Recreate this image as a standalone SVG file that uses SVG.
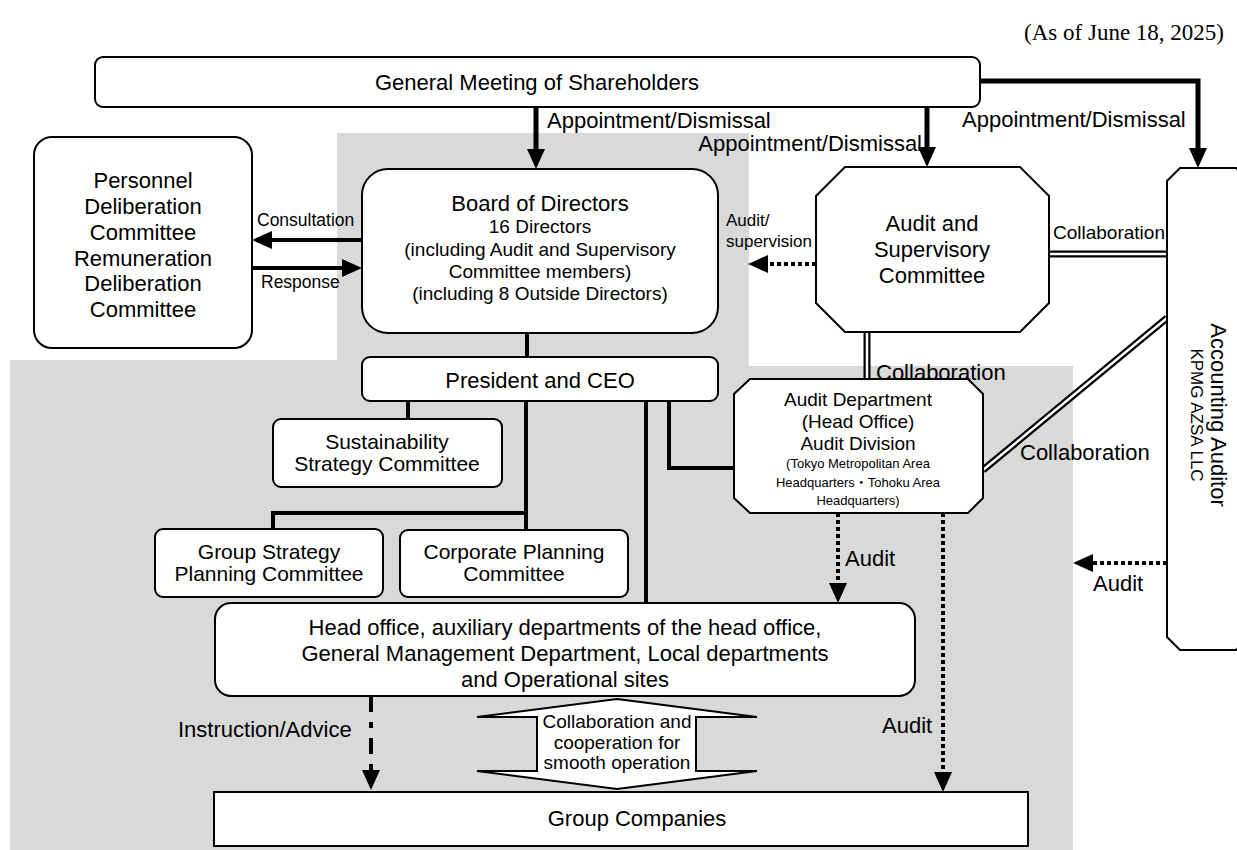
<svg xmlns="http://www.w3.org/2000/svg" width="1237" height="850" viewBox="0 0 1237 850">
<defs>
<style>
.bg{fill:#d9d9d9}
.box{fill:#fff;stroke:#000;stroke-width:2}
.t{font-family:"Liberation Sans",Arial,"Noto Sans CJK JP",sans-serif;fill:#000;text-anchor:middle}
.s{text-anchor:start}
.e{text-anchor:end}
.f22{font-size:22px}
.f21{font-size:21px}
.f19{font-size:19px}
.f17{font-size:17px}
.f13{font-size:13px}
.ln{stroke:#000;stroke-width:4;fill:none}
.thick{stroke-width:5}
.dot{stroke-dasharray:4 3}
.dash{stroke-dasharray:16 10 6 10}
.dblo{stroke:#000;stroke-width:7;fill:none}
.dbli{stroke:#fff;stroke-width:2.5;fill:none}
</style>
<marker id="ah" viewBox="0 0 20 18" refX="6" refY="9" markerWidth="20" markerHeight="18" markerUnits="userSpaceOnUse" orient="auto">
<path d="M0,0 L20,9 L0,18 z" fill="#000"/>
</marker>
</defs>

<polygon class="bg" points="337,133 749,133 749,366 1073,366 1073,850 10,850 10,360 337,360"/>

<text x="1224" y="40" style="font-family:'Liberation Serif','Times New Roman',serif;font-size:23px;text-anchor:end">(As of June 18, 2025)</text>

<g id="connectors">
<line class="ln thick" x1="536" y1="107" x2="536" y2="155" marker-end="url(#ah)"/>
<line class="ln thick" x1="927" y1="107" x2="927" y2="153" marker-end="url(#ah)"/>
<path class="ln thick" d="M980,81 H1198 V154" marker-end="url(#ah)"/>
<line class="ln" x1="362" y1="240" x2="266" y2="240" marker-end="url(#ah)"/>
<line class="ln" x1="253" y1="268" x2="348" y2="268" marker-end="url(#ah)"/>
<line class="ln dot" x1="816" y1="264" x2="762" y2="264" marker-end="url(#ah)"/>
<line class="ln dot" x1="1167" y1="563" x2="1087" y2="563" marker-end="url(#ah)"/>
<line class="ln" x1="527" y1="333" x2="527" y2="357"/>
<line class="ln" x1="408" y1="401" x2="408" y2="419"/>
<path class="ln" d="M526,401 V530 M526,513 H273 V529"/>
<line class="ln" x1="646" y1="401" x2="646" y2="603"/>
<path class="ln" d="M669,401 V468 H735"/>
<line class="ln dot" x1="838" y1="513" x2="838" y2="589" marker-end="url(#ah)"/>
<line class="ln dot" x1="943" y1="513" x2="943" y2="778" marker-end="url(#ah)"/>
<line class="ln dash" x1="371" y1="696" x2="371" y2="776" marker-end="url(#ah)"/>
<line class="dblo" x1="1049" y1="254" x2="1167" y2="254"/>
<line class="dbli" x1="1049" y1="254" x2="1167" y2="254"/>
<line class="dblo" x1="867" y1="332" x2="867" y2="380"/>
<line class="dbli" x1="867" y1="332" x2="867" y2="380"/>
<line class="dblo" x1="1167" y1="318" x2="983" y2="470"/>
<line class="dbli" x1="1167" y1="318" x2="983" y2="470"/>
<text class="t s f22" x="547" y="128">Appointment/Dismissal</text>
<text class="t e f22" x="922" y="151">Appointment/Dismissal</text>
<text class="t s f22" x="962" y="127">Appointment/Dismissal</text>
<text class="t s" x="257" y="226" style="font-size:17.5px">Consultation</text>
<text class="t s" x="261" y="288" style="font-size:17.5px">Response</text>
<text class="t s f17" x="726" y="226">Audit/</text>
<text class="t s f17" x="726" y="247">supervision</text>
<text class="t s f19" x="1053" y="239">Collaboration</text>
<text class="t s f22" x="876" y="380">Collaboration</text>
<text class="t s f22" x="1020" y="460">Collaboration</text>
<text class="t s f22" x="1093" y="591">Audit</text>
<text class="t s f22" x="845" y="566">Audit</text>
<text class="t s f22" x="882" y="733">Audit</text>
<text class="t s f22" x="178" y="737">Instruction/Advice</text>
</g>

<g id="general-meeting">
<rect class="box" x="95" y="57" width="885" height="50" rx="8"/>
<text class="t f22" x="537" y="90">General Meeting of Shareholders</text>
</g>

<g id="personnel-committee">
<rect class="box" x="34" y="137" width="218" height="211" rx="18"/>
<text class="t f22" x="143" y="188">Personnel</text>
<text class="t f22" x="143" y="214">Deliberation</text>
<text class="t f22" x="143" y="240">Committee</text>
<text class="t f22" x="143" y="266">Remuneration</text>
<text class="t f22" x="143" y="291">Deliberation</text>
<text class="t f22" x="143" y="317">Committee</text>
</g>

<g id="board">
<rect class="box" x="362" y="169" width="356" height="164" rx="26"/>
<text class="t f22" x="540" y="211">Board of Directors</text>
<text class="t f19" x="540" y="233">16 Directors</text>
<text class="t f19" x="540" y="256">(including Audit and Supervisory</text>
<text class="t f19" x="540" y="278">Committee members)</text>
<text class="t f19" x="540" y="300">(including 8 Outside Directors)</text>
</g>

<g id="audit-committee">
<polygon class="box" points="845,167 1020,167 1049,196 1049,303 1020,332 845,332 816,303 816,196"/>
<text class="t f22" x="932" y="231">Audit and</text>
<text class="t f22" x="932" y="257">Supervisory</text>
<text class="t f22" x="932" y="283">Committee</text>
</g>

<g id="accounting-auditor">
<polygon class="box" points="1180,168 1236,168 1249,181 1249,637 1236,650 1180,650 1167,637 1167,181"/>
<text class="t f22" transform="translate(1211,415) rotate(90)">Accounting Auditor</text>
<text class="t f17" transform="translate(1191,415) rotate(90)">KPMG AZSA LLC</text>
</g>

<g id="president">
<rect class="box" x="362" y="357" width="356" height="44" rx="8"/>
<text class="t f22" x="540" y="388">President and CEO</text>
</g>

<g id="audit-department">
<polygon class="box" points="750,379 968,379 983,394 983,498 968,513 750,513 734,498 734,394"/>
<text class="t f19" x="858" y="406">Audit Department</text>
<text class="t f19" x="858" y="428">(Head Office)</text>
<text class="t f19" x="858" y="450">Audit Division</text>
<text class="t f13" x="858" y="468">(Tokyo Metropolitan Area</text>
<text class="t f13" x="858" y="487">Headquarters・Tohoku Area</text>
<text class="t f13" x="858" y="505">Headquarters)</text>
</g>

<g id="sustainability">
<rect class="box" x="273" y="419" width="229" height="68" rx="8"/>
<text class="t f21" x="387" y="449">Sustainability</text>
<text class="t f21" x="387" y="471">Strategy Committee</text>
</g>

<g id="group-strategy">
<rect class="box" x="155" y="529" width="228" height="68" rx="8"/>
<text class="t f21" x="269" y="559">Group Strategy</text>
<text class="t f21" x="269" y="581">Planning Committee</text>
</g>

<g id="corporate-planning">
<rect class="box" x="400" y="530" width="228" height="67" rx="8"/>
<text class="t f21" x="514" y="559">Corporate Planning</text>
<text class="t f21" x="514" y="581">Committee</text>
</g>

<g id="head-office">
<rect class="box" x="215" y="603" width="700" height="93" rx="16"/>
<text class="t f22" x="565" y="635">Head office, auxiliary departments of the head office,</text>
<text class="t f22" x="565" y="661">General Management Department, Local departments</text>
<text class="t f22" x="565" y="687">and Operational sites</text>
</g>

<g id="collaboration-arrow">
<polygon class="box" points="617,699 757,717 696,717 696,771 757,771 617,789 477,771 537,771 537,717 477,717"/>
<text class="t f19" x="617" y="728">Collaboration and</text>
<text class="t f19" x="617" y="749">cooperation for</text>
<text class="t f19" x="617" y="769">smooth operation</text>
</g>

<g id="group-companies">
<rect class="box" x="214" y="792" width="814" height="54"/>
<text class="t f22" x="637" y="826">Group Companies</text>
</g>
</svg>
